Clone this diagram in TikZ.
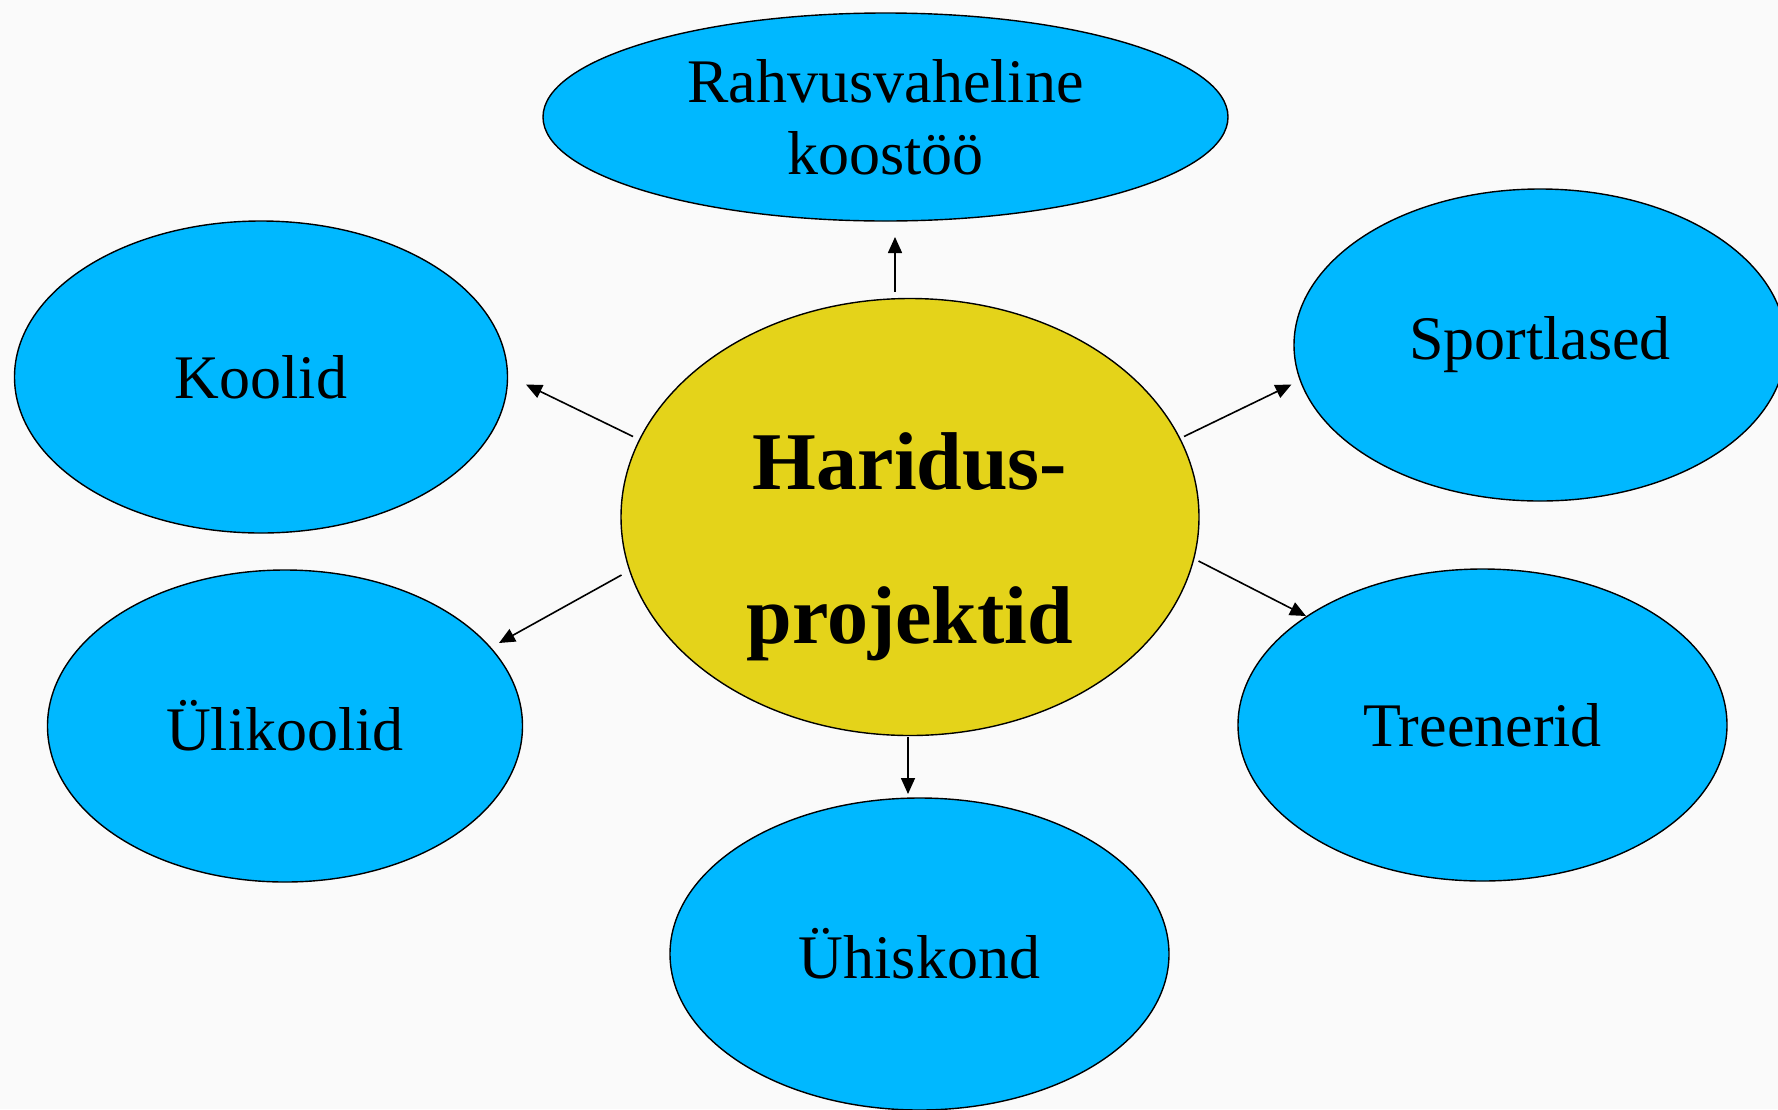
\documentclass[tikz,border=0pt]{standalone}
\usepackage{fontspec}
\setmainfont{Liberation Serif}
\usetikzlibrary{shapes.geometric,arrows.meta}
\definecolor{bgcol}{RGB}{250,250,250}
\definecolor{bluefill}{RGB}{0,184,255}
\definecolor{yellowfill}{RGB}{228,211,26}
\tikzset{
  blob/.style={ellipse, draw=black, line width=0.7pt, fill=bluefill, inner sep=0pt,
    align=center, font=\fontsize{31}{36}\selectfont},
  hub/.style={ellipse, draw=black, line width=0.7pt, fill=yellowfill, inner sep=0pt},
  hubtext/.style={inner sep=0pt, align=center, font=\fontsize{41}{77}\selectfont\bfseries},
  arr/.style={line width=0.8pt, -{Triangle[length=8pt,width=7pt]}}
}
\begin{document}
\begin{tikzpicture}[x=0.5pt,y=-0.5pt]
\useasboundingbox (0,0) rectangle (1778,1109);
\clip (0,0) rectangle (1778,1109);
\fill[bgcol] (0,0) rectangle (1778,1109);
\node[blob, minimum width=342.5pt, minimum height=104pt] (top) at (885.5,117) {Rahvusvaheline\\koostöö};
\node[blob, minimum width=246.5pt, minimum height=156pt] (koolid) at (261,377) {Koolid};
\node[blob, minimum width=246pt, minimum height=156pt] (sport) at (1540,345) {\raisebox{-2pt}{Sportlased}};
\node[blob, minimum width=237.5pt, minimum height=156pt] (uli) at (285,726) {Ülikoolid};
\node[blob, minimum width=244.5pt, minimum height=156pt] (treen) at (1482.5,725) {Treenerid};
\node[blob, minimum width=249.5pt, minimum height=156pt] (uhis) at (919.5,954) {Ühiskond};
\node[hub, minimum width=289pt, minimum height=218.5pt] (hp) at (910,517) {};
\node[hubtext] (hplabel) at (910,547) {Haridus-\\projektid};
\coordinate (s1) at (895,291.5); \coordinate (e1) at (895,237);
\coordinate (s2) at (633,436.5); \coordinate (e2) at (526,384.5);
\coordinate (s3) at (621.5,575); \coordinate (e3) at (499,643);
\coordinate (s4) at (1184,436.5); \coordinate (e4) at (1291.5,384.5);
\coordinate (s5) at (1198.5,561); \coordinate (e5) at (1306,616);
\coordinate (s6) at (908,737); \coordinate (e6) at (908,794);
\draw[arr] (s1) -- (e1);
\draw[arr] (s2) -- (e2);
\draw[arr] (s3) -- (e3);
\draw[arr] (s4) -- (e4);
\draw[arr] (s5) -- (e5);
\draw[arr] (s6) -- (e6);
\end{tikzpicture}
\end{document}
